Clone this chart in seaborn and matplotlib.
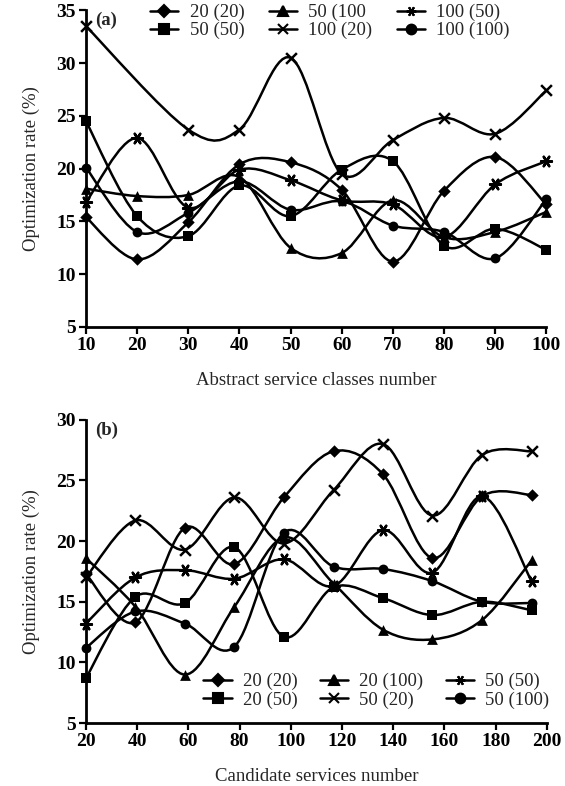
import numpy as np
import pandas as pd
import matplotlib
matplotlib.use("Agg")
import matplotlib.pyplot as plt
import seaborn as sns
from matplotlib.path import Path
from matplotlib.patches import PathPatch
from matplotlib.lines import Line2D

# ---------------- data ----------------
classes = [10, 20, 30, 40, 50, 60, 70, 80, 90, 100]
a_labels = ["20 (20)", "50 (50)", "50 (100", "100 (20)", "100 (50)", "100 (100)"]
a_20_20 = [15.4, 11.4, 14.9, 20.4, 20.6, 18.0, 11.2, 17.9, 21.1, 16.6]
a_50_50 = [24.5, 15.5, 13.6, 18.4, 15.5, 19.9, 20.7, 12.7, 14.3, 12.3]
a_50_100 = [18.1, 17.4, 17.5, 19.2, 12.5, 12.0, 17.0, 13.5, 14.0, 15.9]
a_100_20 = [33.5, np.nan, 23.7, 23.7, 30.5, 19.5, 22.7, 24.8, 23.3, 27.4]
a_100_50 = [16.8, 22.9, 16.3, 19.9, 18.9, 17.0, 16.6, 13.5, 18.5, 20.7]
a_100_100 = [20.1, 14.0, 15.8, 18.8, 16.1, 16.9, 14.6, 14.0, 11.5, 17.1]

candidates = [20, 39.3, 58.7, 78, 97.3, 116.7, 136, 155.3, 174.7, 194]
b_labels = ["20 (20)", "20 (50)", "20 (100)", "50 (20)", "50 (50)", "50 (100)"]
b_20_20 = [17.3, 13.3, 21.1, 18.1, 23.6, 27.4, 25.5, 18.6, 23.7, 23.8]
b_20_50 = [8.7, 15.4, 14.9, 19.5, 12.1, 16.2, 15.3, 13.9, 15.0, 14.3]
b_20_100 = [18.6, 14.6, 9.0, 14.6, 20.3, 16.5, 12.7, 11.9, 13.5, 18.4]
b_50_20 = [17.0, 21.7, 19.3, 23.6, 19.8, 24.2, 28.0, 22.1, 27.1, 27.4]
b_50_50 = [13.2, 17.0, 17.6, 16.9, 18.5, 16.3, 20.9, 17.4, 23.7, 16.7]
b_50_100 = [11.2, 14.2, 13.2, 11.3, 20.7, 17.9, 17.7, 16.7, 15.0, 14.9]

a_x_ticks = [10, 20, 30, 40, 50, 60, 70, 80, 90, 100]
a_y_ticks = [5, 10, 15, 20, 25, 30, 35]
b_x_ticks = [20, 40, 60, 80, 100, 120, 140, 160, 180, 200]
b_y_ticks = [5, 10, 15, 20, 25, 30]

# ---------------- style ----------------
sns.set_theme(style="ticks")
plt.rcParams["font.family"] = ["Liberation Serif", "DejaVu Serif"]

STAR = (6, 2, 90)
markers_a = ["D", "s", "^", "x", STAR, "o"]
markers_b = ["D", "s", "^", "x", STAR, "o"]
sizes = {"D": 40, "s": 55, "^": 60, "x": 45, "o": 50}


def smooth_path(xs, ys):
    pts = [(x, y) for x, y in zip(xs, ys) if not np.isnan(y)]
    p = np.array(pts, dtype=float)
    n = len(p)
    verts = [p[0]]
    codes = [Path.MOVETO]
    for i in range(n - 1):
        p0 = p[i - 1] if i > 0 else p[i]
        p1 = p[i]
        p2 = p[i + 1]
        p3 = p[i + 2] if i + 2 < n else p[i + 1]
        c1 = p1 + (p2 - p0) / 6.0
        c2 = p2 - (p3 - p1) / 6.0
        verts += [c1, c2, p2]
        codes += [Path.CURVE4] * 3
    return Path(verts, codes)


def draw_panel(ax, xs, series, labels, markers):
    for ys, lab, m in zip(series, labels, markers):
        ax.add_patch(PathPatch(smooth_path(xs, ys), facecolor="none",
                               edgecolor="black", lw=1.8, zorder=2, clip_on=False))
        df = pd.DataFrame({"x": xs, "y": ys}).dropna()
        key = m if isinstance(m, str) else "x"
        if m == "x" or not isinstance(m, str):
            sns.scatterplot(data=df, x="x", y="y", marker=m, color="black",
                            s=sizes[key] + 15, linewidth=1.8, ax=ax, zorder=3,
                            clip_on=False)
        else:
            sns.scatterplot(data=df, x="x", y="y", marker=m, color="black",
                            s=sizes[key], linewidth=0, ax=ax, zorder=3,
                            clip_on=False)
    handles = [Line2D([], [], color="black", lw=1.8, marker=m,
                      markersize=7 if m != "D" else 6,
                      markeredgewidth=1.5) for m in markers]
    return handles


fig = plt.figure(figsize=(5.65, 7.86), dpi=100)
ax1 = fig.add_axes([0.152, 0.584, 0.815, 0.403])
ax2 = fig.add_axes([0.152, 0.080, 0.816, 0.386])

h1 = draw_panel(ax1, classes, [a_20_20, a_50_50, a_50_100, a_100_20, a_100_50, a_100_100],
                a_labels, markers_a)
h2 = draw_panel(ax2, candidates, [b_20_20, b_20_50, b_20_100, b_50_20, b_50_50, b_50_100],
                b_labels, markers_b)

for ax, xt, yt, xl, tag in [(ax1, a_x_ticks, a_y_ticks, "Abstract service classes number", "(a)"),
                            (ax2, b_x_ticks, b_y_ticks, "Candidate services number", "(b)")]:
    ax.set_xlim(xt[0], xt[-1])
    ax.set_ylim(yt[0], yt[-1])
    ax.set_xticks(xt)
    ax.set_yticks(yt)
    ax.set_xticklabels([str(v) for v in xt], fontsize=14, fontweight="bold")
    ax.set_yticklabels([str(v) for v in yt], fontsize=14, fontweight="bold")
    ax.set_xlabel(xl, fontsize=13.5, labelpad=13)
    ax.set_ylabel("Optimization rate (%)", fontsize=13.5, labelpad=12)
    for s in ["top", "right"]:
        ax.spines[s].set_visible(False)
    for s in ["left", "bottom"]:
        ax.spines[s].set_linewidth(2)
        ax.spines[s].set_color("black")
    ax.tick_params(axis="both", direction="out", length=5, width=1.6, color="black",
                   pad=2, labelcolor="black")
    ax.text(0.02, 0.995, tag, transform=ax.transAxes, fontsize=13.5, fontweight="bold",
            va="top", ha="left")
    ax.set_facecolor("white")

ax1.legend(h1, a_labels, ncol=3, loc="upper left", bbox_to_anchor=(0.14, 1.02),
           frameon=False, fontsize=13.5, handlelength=1.5, handletextpad=0.6,
           columnspacing=1.3, labelspacing=0.05, borderpad=0, borderaxespad=0)
ax2.legend(h2, b_labels, ncol=3, loc="upper left", bbox_to_anchor=(0.255, 0.165),
           frameon=False, fontsize=13.5, handlelength=1.5, handletextpad=0.6,
           columnspacing=1.2, labelspacing=0.05, borderpad=0, borderaxespad=0)

fig.savefig("out.png", dpi=100, facecolor="white")
